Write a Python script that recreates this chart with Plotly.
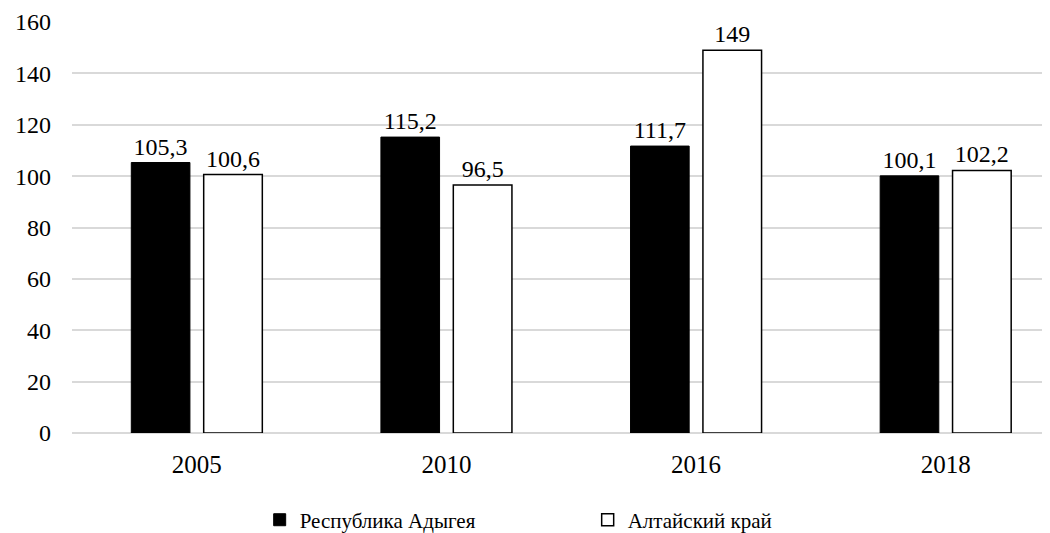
import plotly.graph_objects as go

years = ["2005", "2010", "2016", "2018"]
adygea = [105.3, 115.2, 111.7, 100.1]
altai = [100.6, 96.5, 149, 102.2]
series_names = ["Республика Адыгея", "Алтайский край"]
y_ticks = [0, 20, 40, 60, 80, 100, 120, 140, 160]

FONT = "Liberation Serif"

fig = go.Figure()
for name, vals, fill, lw in [(series_names[0], adygea, "black", 1),
                             (series_names[1], altai, "white", 1.5)]:
    fig.add_trace(go.Bar(
        x=years, y=vals, name=name,
        marker=dict(color=fill, line=dict(color="black", width=lw)),
        texttemplate="%{y}", textposition="outside",
        textfont=dict(family=FONT, size=24, color="black"),
        cliponaxis=False,
    ))

fig.update_layout(
    width=1050, height=533,
    margin=dict(l=64, r=0, t=14, b=108),
    paper_bgcolor="white", plot_bgcolor="white",
    font=dict(family=FONT, size=22, color="black"),
    separators=", ",
    barmode="group",
    bargap=0.42,
    bargroupgap=0.19,
    showlegend=True,
    legend=dict(
        orientation="h", x=0.523, xanchor="center", y=-0.162, yanchor="top",
        font=dict(family=FONT, size=21, color="black"),
        entrywidth=283, itemwidth=30,
    ),
    xaxis=dict(
        type="category", range=[-0.5, 3.45],
        showgrid=False, showline=False, zeroline=False,
        ticks="", tickfont=dict(family=FONT, size=25),
        ticklabelstandoff=14,
    ),
    yaxis=dict(
        range=[0, 160], tickvals=y_ticks,
        showgrid=True, gridcolor="#d9d9d9", gridwidth=1.5,
        zeroline=True, zerolinecolor="#d9d9d9", zerolinewidth=1.5,
        showline=False, ticks="",
        tickfont=dict(family=FONT, size=24),
        ticklabelstandoff=20,
    ),
)

fig.write_html("out.html")
